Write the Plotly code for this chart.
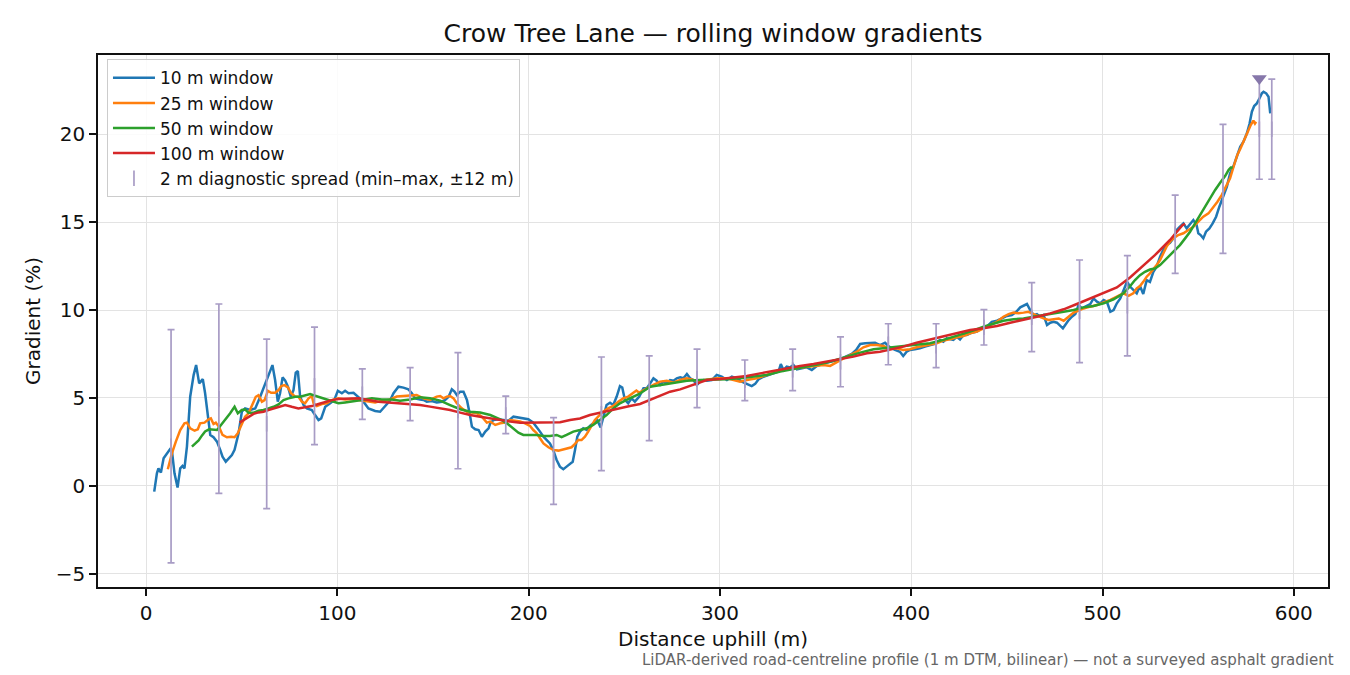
"""
Crow Tree Lane - rolling window gradients.
Plotly recreation of the LiDAR profile chart, values read off the picture.
"""

import plotly.graph_objects as go

FONT = "DejaVu Sans"

# distance uphill (m) and gradient (%) for each rolling window
dist_10 = [4.2, 5.6, 6.4, 7.7, 9.1, 10.8, 12.5, 13.4, 14.8, 16.4, 17.8, 19.0, 20.0, 21.3, 23.0, 24.8,
           26.1, 27.7, 28.8, 29.6, 30.8, 32.2, 33.5, 35.2, 37.0, 38.7, 39.9, 41.6, 43.0, 44.8, 46.2,
           48.3, 50.0, 51.7, 54.4, 57.0, 59.6, 62.2, 64.3, 66.0, 67.4, 68.8, 70.0, 71.3, 72.7, 74.1,
           75.6, 77.0, 78.2, 79.3, 80.5, 82.3, 84.0, 86.6, 88.3, 90.1, 91.5, 93.6, 96.2, 98.3, 100.2,
           102.3, 104.0, 105.8, 108.4, 111.0, 113.6, 116.2, 119.7, 122.3, 125.0, 127.5, 129.3, 131.9,
           134.5, 137.1, 138.9, 140.6, 143.2, 145.0, 146.7, 149.3, 151.9, 154.6, 156.3, 158.1, 159.8,
           161.2, 162.4, 164.2, 165.9, 167.7, 169.1, 170.3, 172.0, 173.8, 175.5, 177.3, 179.0, 179.9,
           181.6, 184.2, 186.8, 189.4, 192.0, 194.6, 197.2, 199.8, 202.4, 204.2, 205.9, 207.7, 209.3,
           211.1, 212.8, 214.6, 216.3, 218.1, 219.8, 221.6, 223.0, 224.2, 225.4, 226.8, 228.5, 230.3,
           232.0, 234.1, 235.8, 237.6, 239.0, 240.7, 242.5, 244.2, 246.0, 247.7, 248.9, 250.3, 252.0,
           253.8, 255.5, 257.8, 260.0, 261.7, 263.5, 265.2, 266.9, 268.7, 270.4, 272.2, 273.9, 275.7,
           277.4, 279.2, 280.9, 282.7, 284.4, 286.1, 287.9, 289.6, 291.4, 293.1, 295.7, 298.3, 300.9,
           303.6, 306.2, 308.8, 311.4, 314.0, 316.6, 318.4, 320.1, 322.7, 325.3, 328.0, 330.6, 331.8,
           333.2, 334.9, 336.7, 338.4, 340.2, 342.8, 345.4, 348.0, 350.6, 353.2, 355.9, 358.5, 361.1,
           363.7, 366.3, 368.9, 371.2, 373.3, 375.9, 378.5, 381.1, 383.7, 386.3, 388.6, 391.5, 394.1,
           395.8, 397.6, 399.3, 401.9, 404.5, 407.2, 409.8, 412.4, 415.0, 416.8, 418.5, 420.3, 422.0,
           423.8, 425.5, 427.3, 429.0, 431.7, 434.3, 436.9, 439.5, 442.1, 444.8, 447.4, 450.0, 452.6,
           454.9, 457.0, 458.7, 460.5, 462.2, 464.0, 465.7, 467.5, 469.2, 471.0, 472.7, 474.4, 476.2,
           477.9, 479.3, 480.5, 482.3, 484.0, 485.8, 487.5, 489.2, 491.0, 493.6, 495.3, 497.1, 498.8,
           500.6, 502.3, 504.1, 505.8, 507.5, 509.3, 511.0, 512.8, 514.5, 516.1, 517.9, 519.6, 521.3,
           523.1, 524.8, 526.6, 528.3, 530.1, 531.8, 533.5, 535.3, 537.0, 538.8, 540.5, 542.3, 544.0,
           545.8, 547.5, 549.2, 550.1, 551.3, 552.7, 554.1, 555.9, 557.6, 559.4, 561.1, 562.9, 565.0,
           566.7, 568.5, 570.2, 572.0, 573.7, 575.5, 576.9, 578.1, 579.3, 580.7, 582.1, 583.3, 584.2,
           585.6, 586.8, 587.7]
grad_10 = [-0.32, 0.72, 1.0, 0.76, 1.57, 1.82, 2.1, 2.05, 0.72, -0.09, 1.0, 1.14, 1.0, 2.24, 5.07, 6.3,
           6.87, 5.83, 5.99, 6.07, 5.27, 3.94, 2.9, 2.77, 2.52, 2.05, 1.67, 1.38, 1.57, 1.76, 2.05,
           3.0, 4.22, 4.41, 4.32, 4.41, 5.07, 5.83, 6.4, 6.87, 6.02, 4.79, 5.27, 6.17, 5.99, 5.64,
           5.07, 5.45, 6.44, 6.53, 5.07, 4.6, 4.41, 4.32, 4.03, 3.75, 3.84, 4.5, 4.7, 4.88, 5.41,
           5.27, 5.41, 5.27, 5.3, 5.07, 4.79, 4.41, 4.26, 4.22, 4.54, 4.85, 5.27, 5.64,
           5.59, 5.49, 5.27, 4.98, 4.92, 4.89, 4.79, 4.83, 4.75, 4.79, 4.89, 5.07, 5.49,
           5.36, 5.17, 5.36, 5.36, 4.89, 4.13, 3.37, 3.22, 3.18, 2.8, 3.09, 3.28, 3.56,
           3.75, 3.79, 3.75, 3.71, 3.94, 3.9, 3.84, 3.79, 3.6, 3.37, 3.09, 2.8, 2.61,
           2.42, 2.05, 1.48, 1.1, 0.95, 1.1, 1.25, 1.38, 2.05, 2.8, 3.09, 3.28, 3.18,
           3.41, 3.6, 3.75, 3.33, 3.94, 4.6, 4.73, 4.6, 5.08, 5.68, 5.6, 4.89, 4.7,
           4.98, 4.79, 5.08, 5.55, 5.55, 5.83, 6.12, 5.98, 5.74, 5.93, 5.83, 6.02, 5.98,
           6.12, 6.17, 6.12, 6.36, 6.12, 6.02, 5.74, 5.93, 6.02, 5.98, 6.02, 6.31, 6.21,
           6.02, 6.21, 6.12, 5.93, 5.8, 5.68, 5.8, 6.05, 6.21, 6.31, 6.4, 6.5, 6.93,
           6.59, 6.78, 6.74, 6.88, 6.63, 6.69, 6.74, 6.59, 6.82, 6.93, 7.0, 7.06, 7.16,
           7.25, 7.38, 7.5, 7.73, 8.07, 8.11, 8.11, 8.14, 8.01, 8.14, 7.9, 7.73, 7.63,
           7.39, 7.63, 7.73, 7.77, 7.82, 7.92, 8.01, 8.07, 8.3, 8.2, 8.39, 8.33, 8.3,
           8.48, 8.33, 8.58, 8.58, 8.71, 8.77, 8.96, 9.05, 9.33, 9.39, 9.52, 9.66, 9.71,
           9.9, 10.15, 10.23, 10.34, 10.0, 9.71, 9.77, 9.62, 9.71, 9.15, 9.28, 9.33, 9.28,
           9.09, 8.96, 9.15, 9.43, 9.62, 9.77, 10.28, 10.09, 10.19, 10.34, 10.66, 10.47, 10.38,
           10.57, 10.47, 9.9, 10.0, 10.38, 10.66, 11.13, 11.61, 11.32, 11.13, 10.95, 11.36, 10.91,
           11.7, 11.6, 12.17, 12.46, 13.03, 13.41, 13.69, 13.82, 14.07, 14.55, 14.73, 14.92, 14.64,
           14.92, 15.11, 14.83, 14.36, 14.26, 14.07, 14.45, 14.64, 14.92, 15.3, 15.87, 16.44, 17.0,
           17.76, 18.18, 18.71, 19.28, 19.56, 20.04, 20.6, 21.27, 21.59, 21.74, 22.03, 22.31, 22.4,
           22.31, 22.12, 21.17]

dist_25 = [11.3, 13.4, 15.5, 17.8, 20.0, 21.3, 23.0, 25.3, 27.0, 28.2, 30.5, 32.6, 33.8, 35.2, 36.4,
           38.2, 39.9, 42.2, 44.4, 46.2, 47.9, 50.0, 51.7, 53.5, 55.6, 57.3, 58.7, 60.5, 61.9, 63.6,
           65.3, 67.4, 69.2, 70.6, 72.3, 74.1, 75.8, 77.9, 79.6, 81.4, 83.1, 84.9, 86.6, 87.5, 89.2,
           91.8, 94.4, 97.1, 100.5, 104.0, 107.5, 111.9, 115.4, 119.7, 123.2, 126.7, 131.0, 134.5,
           137.9, 141.4, 144.9, 148.4, 151.9, 153.7, 155.4, 157.2, 158.9, 160.7, 162.4, 165.0, 167.7,
           170.3, 172.9, 175.5, 178.1, 179.9, 182.5, 185.1, 187.7, 190.3, 192.9, 195.5, 198.1, 200.7,
           202.4, 204.2, 205.9, 207.7, 210.3, 212.8, 215.5, 218.1, 220.7, 222.4, 224.2, 225.9, 227.6,
           229.4, 231.1, 232.9, 234.6, 236.3, 238.9, 241.5, 244.2, 246.8, 249.4, 252.0, 254.6, 256.3,
           257.8, 261.7, 265.2, 268.7, 272.2, 275.7, 279.2, 282.7, 286.1, 289.6, 293.1, 298.3, 303.6,
           307.1, 310.5, 314.0, 319.2, 324.5, 329.7, 334.9, 340.2, 345.4, 348.9, 354.1, 357.6, 361.1,
           364.6, 368.1, 371.6, 375.0, 378.5, 382.0, 385.5, 388.9, 392.4, 395.8, 399.3, 402.8, 406.3,
           409.8, 413.3, 416.8, 420.3, 423.8, 427.3, 430.8, 434.3, 437.8, 441.3, 444.8, 448.2, 450.9,
           453.5, 456.1, 458.7, 461.3, 463.9, 466.6, 469.2, 471.8, 474.4, 477.1, 479.7, 482.3, 484.9,
           487.5, 490.1, 493.6, 497.1, 500.6, 504.1, 507.5, 511.0, 513.6, 516.1, 517.9, 519.6, 521.3,
           523.1, 524.8, 526.6, 528.3, 530.1, 531.8, 533.5, 535.3, 537.0, 539.6, 542.3, 544.9, 547.5,
           550.1, 552.7, 555.4, 558.0, 560.1, 562.3, 564.6, 566.7, 568.8, 570.5, 572.2, 574.0, 575.7,
           577.5, 578.9, 579.7, 580.3]
grad_25 = [0.95, 1.84, 2.52, 3.18, 3.56, 3.6, 3.28, 3.14, 3.22, 3.56, 3.6, 3.79, 3.84, 3.52, 3.6,
           3.33, 2.9, 2.77, 2.8, 2.77, 3.0, 3.47, 3.94, 4.13, 4.6, 5.07, 5.16, 4.79, 4.88, 5.41,
           5.3, 5.3, 5.45, 5.68, 5.73, 5.6, 5.27, 5.07, 5.07, 4.79, 4.7, 4.98, 5.11, 4.7, 4.54,
           4.66, 4.7, 4.88, 4.98, 4.92, 4.94, 4.88, 4.79, 4.75, 4.85, 4.88, 5.08, 5.11,
           5.17, 5.17, 4.98, 4.89, 5.08, 5.11, 4.98, 5.08, 5.11, 4.98, 4.7, 4.41, 4.22,
           4.17, 4.13, 3.94, 3.6, 3.66, 3.47, 3.56, 3.6, 3.75, 3.71, 3.66, 3.56, 3.41,
           3.18, 3.0, 2.71, 2.42, 2.2, 2.05, 2.01, 2.08, 2.14, 2.2, 2.39, 2.61, 2.61,
           2.8, 3.09, 3.47, 3.75, 3.94, 4.22, 4.41, 4.55, 4.79, 4.98, 5.08, 5.27, 5.42,
           5.3, 5.55, 5.74, 5.93, 5.98, 5.87, 6.02, 6.12, 6.02, 5.98, 6.02, 6.12, 6.12,
           6.02, 5.93, 6.02, 6.12, 6.31, 6.5, 6.63, 6.69, 6.74, 6.78, 6.88, 6.82, 7.06,
           7.25, 7.44, 7.63, 7.88, 8.01, 8.01, 7.95, 7.78, 7.82, 7.73, 7.77, 7.88, 7.95,
           8.01, 8.11, 8.26, 8.33, 8.45, 8.52, 8.67, 8.77, 8.96, 9.15, 9.33, 9.62, 9.77,
           9.85, 9.81, 9.85, 9.9, 9.77, 9.62, 9.52, 9.43, 9.47, 9.52, 9.39, 9.62, 9.85,
           9.96, 10.09, 10.19, 10.28, 10.43, 10.57, 10.76, 10.95, 10.8, 10.95, 11.23, 11.36, 11.6,
           11.89, 12.08, 12.3, 12.55, 12.84, 13.22, 13.6, 13.88, 14.07, 14.26, 14.36, 14.55, 14.73,
           15.02, 15.3, 15.49, 15.83, 16.15, 16.53, 17.04, 17.48, 18.24, 18.81, 19.19, 19.66, 20.13,
           20.51, 20.76, 20.6, 20.7]

dist_50 = [23.9, 25.6, 27.4, 29.1, 30.8, 32.9, 35.2, 37.0, 38.7, 40.4, 42.2, 43.9, 46.2, 47.9, 50.0,
           51.7, 53.5, 56.1, 58.7, 61.3, 63.9, 66.6, 69.2, 71.8, 74.4, 77.9, 80.5, 83.1, 85.7, 88.3,
           91.8, 94.4, 97.1, 100.5, 104.0, 107.5, 112.7, 118.0, 123.2, 128.4, 132.7, 137.9, 143.2,
           148.4, 153.7, 158.9, 164.2, 169.4, 174.6, 179.9, 185.1, 188.6, 192.0, 194.6, 197.2, 200.7,
           204.2, 207.7, 211.1, 214.6, 217.2, 219.8, 223.3, 226.8, 230.3, 233.7, 237.2, 240.7, 244.2,
           247.7, 251.2, 254.6, 257.8, 263.5, 268.7, 275.7, 282.7, 289.6, 296.6, 303.6, 310.5, 317.5,
           324.5, 331.5, 338.4, 345.4, 352.4, 359.4, 366.3, 373.3, 380.3, 388.6, 395.8, 402.8, 409.8,
           416.8, 423.8, 430.8, 437.8, 443.0, 448.2, 453.5, 458.7, 463.9, 469.2, 474.4, 479.7, 484.9,
           490.1, 495.3, 500.6, 505.8, 511.0, 514.4, 517.0, 519.6, 522.2, 524.8, 527.4, 530.1, 532.7,
           535.3, 537.9, 540.5, 543.2, 545.8, 548.4, 551.0, 553.6, 556.3, 558.9, 561.5, 564.1, 565.9,
           567.1, 568.1]
grad_50 = [2.24, 2.44, 2.59, 2.86, 3.1, 3.22, 3.18, 3.18, 3.41, 3.65, 3.84, 4.13, 4.5, 4.13, 4.32,
           4.35, 4.16, 4.16, 4.28, 4.32, 4.41, 4.5, 4.64, 4.88, 4.98, 5.07, 5.07, 5.16, 5.22, 5.13,
           5.01, 4.88, 4.82, 4.7, 4.75, 4.79, 4.88, 4.98, 4.92, 4.92, 4.85, 4.92, 5.04,
           4.98, 4.85, 4.6, 4.36, 4.22, 4.17, 4.03, 3.79, 3.56, 3.28, 3.03, 2.9, 2.9,
           2.9, 2.84, 2.84, 2.9, 2.77, 2.9, 3.09, 3.18, 3.28, 3.47, 3.75, 4.03, 4.41,
           4.7, 4.89, 5.08, 5.23, 5.64, 5.74, 5.87, 5.98, 6.02, 6.02, 6.06, 6.12, 6.21,
           6.31, 6.5, 6.63, 6.78, 6.93, 7.12, 7.35, 7.58, 7.77, 7.87, 7.92, 8.01, 8.11,
           8.3, 8.52, 8.77, 9.05, 9.24, 9.39, 9.47, 9.52, 9.62, 9.71, 9.77, 9.9, 10.0,
           10.15, 10.23, 10.38, 10.61, 10.95, 11.35, 11.7, 11.98, 12.17, 12.3, 12.36, 12.55, 12.84,
           13.12, 13.41, 13.69, 14.07, 14.45, 14.92, 15.4, 15.87, 16.34, 16.82, 17.23, 17.61, 17.95,
           18.1, 18.1]

dist_100 = [48.8, 50.9, 53.5, 56.1, 58.7, 61.3, 63.9, 66.6, 69.2, 72.7, 76.1, 79.6, 83.1, 86.6, 90.1,
            93.6, 97.1, 100.5, 105.8, 111.0, 116.2, 121.4, 126.7, 132.7, 137.9, 143.2, 148.4, 153.7,
            158.9, 164.2, 169.4, 174.6, 179.9, 185.1, 190.3, 195.5, 200.7, 205.9, 211.1, 216.4, 221.6,
            226.8, 232.0, 237.2, 242.5, 247.7, 252.9, 258.2, 263.5, 268.7, 273.9, 279.2, 284.4, 289.6,
            293.1, 300.1, 307.1, 314.0, 321.0, 328.0, 334.9, 341.9, 348.9, 355.9, 362.9, 369.8, 376.8,
            383.7, 388.9, 395.8, 402.8, 409.8, 416.8, 423.8, 430.8, 437.8, 444.8, 451.7, 458.7, 465.7,
            472.7, 479.7, 486.6, 493.6, 500.6, 507.5, 514.4, 517.0, 519.6, 522.2, 524.8, 527.4, 530.1,
            532.7, 535.3, 537.9, 540.2, 541.9, 543.2]
grad_100 = [3.6, 3.75, 3.94, 4.1, 4.18, 4.22, 4.32, 4.41, 4.5, 4.6, 4.5, 4.41, 4.47, 4.54, 4.66,
            4.79, 4.88, 4.94, 4.98, 4.98, 4.88, 4.79, 4.75, 4.7, 4.64, 4.6, 4.51, 4.41,
            4.32, 4.17, 4.03, 3.94, 3.84, 3.75, 3.66, 3.6, 3.6, 3.62, 3.62, 3.62, 3.75,
            3.84, 4.03, 4.17, 4.28, 4.41, 4.55, 4.66, 4.89, 5.11, 5.36, 5.49, 5.68, 5.87,
            6.02, 6.08, 6.15, 6.25, 6.4, 6.55, 6.69, 6.82, 6.93, 7.06, 7.2, 7.35, 7.54,
            7.63, 7.75, 7.92, 8.14, 8.33, 8.52, 8.71, 8.86, 8.96, 9.09, 9.28, 9.43, 9.62,
            9.81, 10.04, 10.34, 10.66, 10.95, 11.28, 11.85, 12.1, 12.35, 12.61, 12.84, 13.12, 13.41,
            13.69, 13.98, 14.32, 14.64, 14.83, 14.89]

# 2 m diagnostic spread, min and max within +-12 m of each station
spread_x = [13, 38, 63, 88, 113, 138, 163, 188, 213, 238, 263, 288, 313, 338, 363, 388, 413, 438,
            463, 488, 513, 538, 563, 582, 588.5]
spread_min = [-4.37, -0.42, -1.29, 2.35, 3.78, 3.71, 0.98, 2.97, -1.04, 0.87, 2.58, 4.45, 4.85,
              5.42, 5.64, 6.89, 6.72, 8.01, 7.63, 7.01, 7.39, 12.08, 13.22, 17.43, 17.43]
spread_max = [8.88, 10.34, 8.35, 9.03, 6.66, 6.72, 7.58, 5.11, 3.88, 7.33, 7.39, 7.78, 7.16,
              7.78, 8.47, 9.22, 9.22, 10.02, 11.55, 12.84, 13.09, 16.53, 20.55, 23.12, 23.12]

# steepest point marker
peak_x = [582]
peak_y = [23.15]

series = [
    ("10 m window", dist_10, grad_10, "#1f77b4"),
    ("25 m window", dist_25, grad_25, "#ff7f0e"),
    ("50 m window", dist_50, grad_50, "#2ca02c"),
    ("100 m window", dist_100, grad_100, "#d62728"),
]

SPREAD_COLOUR = "#a89cc5"

# the page body adds an 8 px margin, so the figure is 8 px smaller each way
W, H = 1342, 667

fig = go.Figure()

for name, xs, ys, colour in series:
    fig.add_trace(go.Scatter(x=xs, y=ys, mode="lines", name=name,
                             line=dict(color=colour, width=2.5)))

mid = [(lo + hi) / 2 for lo, hi in zip(spread_min, spread_max)]
fig.add_trace(go.Scatter(
    x=spread_x, y=mid, mode="markers",
    name="2 m diagnostic spread (min\u2013max, \u00b112 m)",
    marker=dict(symbol="line-ns", size=11, color=SPREAD_COLOUR,
                line=dict(color=SPREAD_COLOUR, width=1.7)),
    error_y=dict(type="data", symmetric=False,
                 array=[hi - m for hi, m in zip(spread_max, mid)],
                 arrayminus=[m - lo for lo, m in zip(spread_min, mid)],
                 color=SPREAD_COLOUR, thickness=1.7, width=3.5),
))

fig.add_trace(go.Scatter(x=peak_x, y=peak_y, mode="markers", showlegend=False,
                         marker=dict(symbol="triangle-down", size=13, color="#8677aa")))

axis_common = dict(
    showline=True, mirror=True, linecolor="#111111", linewidth=1.5,
    ticks="outside", ticklen=7, tickwidth=1.5, tickcolor="#111111",
    showgrid=True, gridcolor="#e3e3e3", gridwidth=1.3,
    zeroline=False, automargin=False,
    tickfont=dict(family=FONT, size=20, color="#111111"),
)

fig.update_xaxes(range=[-25.2, 617.9], tickvals=[0, 100, 200, 300, 400, 500, 600],
                 title=dict(text="Distance uphill (m)", standoff=8,
                            font=dict(family=FONT, size=20, color="#111111")),
                 **axis_common)
fig.update_yaxes(range=[-5.74, 24.49], tickvals=[-5, 0, 5, 10, 15, 20],
                 title=dict(text="Gradient (%)", standoff=10,
                            font=dict(family=FONT, size=20, color="#111111")),
                 **axis_common)

fig.add_annotation(
    text="LiDAR-derived road-centreline profile (1 m DTM, bilinear) \u2014 not a surveyed asphalt gradient",
    xref="paper", yref="paper", x=1.0065, y=-0.137, xanchor="right", yanchor="middle",
    showarrow=False, font=dict(family=FONT, size=15, color="#666666"),
)

fig.update_layout(
    width=W, height=H,
    margin=dict(l=90, r=22, t=47, b=88),
    paper_bgcolor="white", plot_bgcolor="white",
    font=dict(family=FONT, color="#111111"),
    title=dict(text="Crow Tree Lane \u2014 rolling window gradients",
               xref="paper", x=0.5, xanchor="center", y=1 - 25 / H, yanchor="middle",
               font=dict(family=FONT, size=25, color="#111111")),
    legend=dict(x=0.0073, y=0.992, xanchor="left", yanchor="top", itemwidth=42,
                bgcolor="rgba(255,255,255,0.85)", bordercolor="#cccccc", borderwidth=1,
                font=dict(family=FONT, size=17, color="#111111")),
    showlegend=True,
)

fig.write_html("out.html")
